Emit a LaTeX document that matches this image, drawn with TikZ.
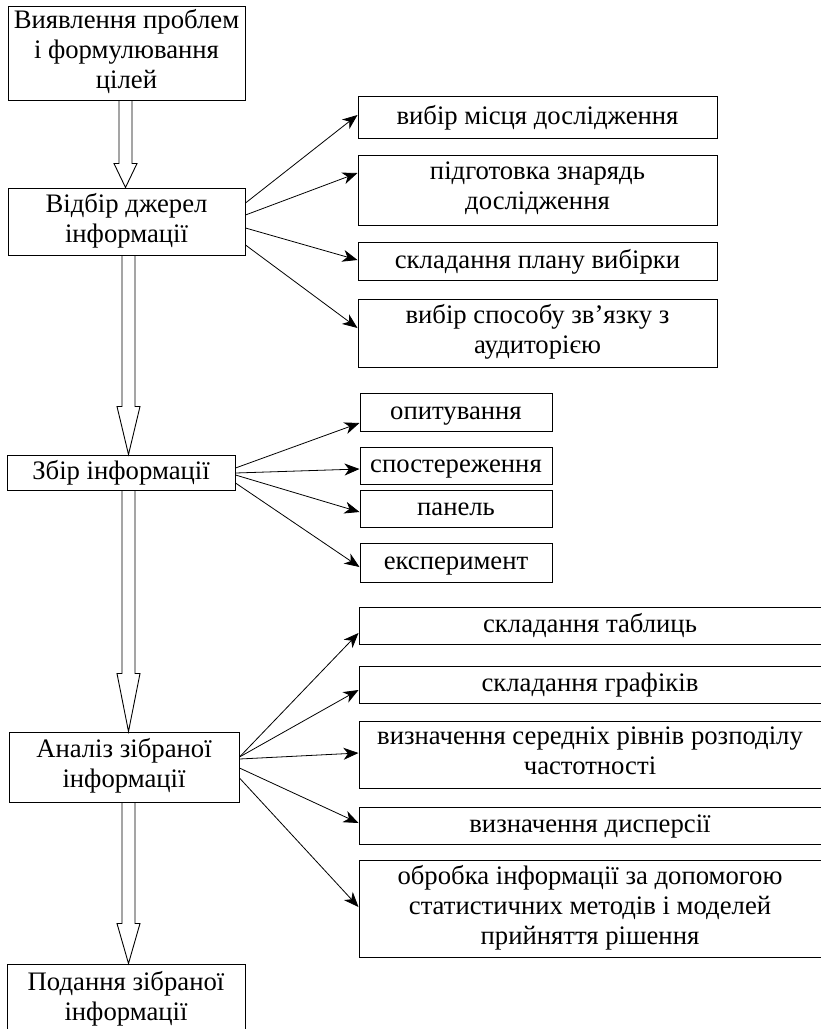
\documentclass[tikz,border=0pt]{standalone}
\usepackage{fontspec}
\setmainfont{Liberation Serif}
\usetikzlibrary{arrows.meta,calc}
\newcommand\sr{\rule[-8pt]{0pt}{30pt}}
\tikzset{
  box/.style={draw, line width=1pt, inner sep=0pt, align=center, font=\fontsize{26.7}{30}\selectfont, execute at begin node=\sr},
  arr/.style={line width=0.8pt, -{Stealth[length=15pt,width=12pt,inset=4.5pt]}},
  hollow/.style={line width=0.9pt, line join=miter}
}
\newcommand\hollowarrow[4]{%
  \draw[hollow] let \p1=(#2.south), \p2=(#3.north) in
  ({#1pt-6.5pt},\y1) -- ({#1pt-6.5pt},{\y2+#4pt}) -- ({#1pt-11.5pt},{\y2+#4pt}) --
  (#1pt,\y2) -- ({#1pt+11.5pt},{\y2+#4pt}) -- ({#1pt+6.5pt},{\y2+#4pt}) -- ({#1pt+6.5pt},\y1);}
\begin{document}
\begin{tikzpicture}[x=1pt,y=-1pt]
\useasboundingbox (0,0) rectangle (820,1029);
% left column
\node[box, minimum width=237, minimum height=94] (L1) at (126.5,53) {Виявлення проблем\\\sr і формулювання\\\sr цілей};
\node[box, minimum width=237, minimum height=67] (L2) at (126.5,221.5) {Відбір джерел\\\sr інформації};
\node[box, minimum width=228, minimum height=35] (L3) at (121,472.5) {Збір інформації};
\node[box, minimum width=230, minimum height=70] (L4) at (124,767) {Аналіз зібраної\\\sr інформації};
\node[box, minimum width=238, minimum height=71] (L5) at (126,999.5) {Подання зібраної\\\sr інформації};
% right boxes group 1
\node[box, minimum width=359, minimum height=42] (R1) at (537.5,117) {вибір місця дослідження};
\node[box, minimum width=359, minimum height=70] (R2) at (537.5,190) {підготовка знарядь\\\sr дослідження};
\node[box, minimum width=359, minimum height=38] (R3) at (537.5,261) {складання плану вибірки};
\node[box, minimum width=359, minimum height=68] (R4) at (537.5,333) {вибір способу зв’язку з\\\sr аудиторією};
% group 2
\node[box, minimum width=192, minimum height=38] (R5) at (456,412) {опитування};
\node[box, minimum width=192, minimum height=37] (R6) at (456,465.5) {спостереження};
\node[box, minimum width=192, minimum height=37] (R7) at (456,508.5) {панель};
\node[box, minimum width=192, minimum height=39] (R8) at (456,562.5) {експеримент};
% group 3
\node[box, minimum width=462, minimum height=37] (R9) at (590,625.5) {складання таблиць};
\node[box, minimum width=462, minimum height=37] (R10) at (590,684.5) {складання графіків};
\node[box, minimum width=462, minimum height=67] (R11) at (590,754.5) {визначення середніх рівнів розподілу\\\sr частотності};
\node[box, minimum width=462, minimum height=37] (R12) at (590,825.5) {визначення дисперсії};
\node[box, minimum width=462, minimum height=97] (R13) at (590,908.5) {обробка інформації за допомогою\\\sr статистичних методів і моделей\\\sr прийняття рішення};
% hollow arrows
\hollowarrow{125.5}{L1}{L2}{24}
\hollowarrow{128.5}{L2}{L3}{48}
\hollowarrow{128.5}{L3}{L4}{58}
\hollowarrow{128.5}{L4}{L5}{40}
% arrows from L2
\draw[arr] ([yshift=18.5pt]L2.east) -- ([yshift=2pt]R1.west);
\draw[arr] ([yshift=6.5pt]L2.east) -- ([yshift=17pt]R2.west);
\draw[arr] ([yshift=-6.5pt]L2.east) -- ([yshift=1pt]R3.west);
\draw[arr] ([yshift=-23.5pt]L2.east) -- ([yshift=5pt]R4.west);
% arrows from L3
\draw[arr] ([yshift=4.5pt]L3.east) -- ([yshift=-11pt]R5.west);
\draw[arr] ([yshift=-0.5pt]L3.east) -- ([yshift=-3.5pt]R6.west);
\draw[arr] ([yshift=-2.5pt]L3.east) -- ([yshift=-3.5pt]R7.west);
\draw[arr] ([yshift=-10.5pt]L3.east) -- ([yshift=-4.5pt]R8.west);
% arrows from L4
\draw[arr] ([yshift=10pt]L4.east) -- ([yshift=-7.5pt]R9.west);
\draw[arr] ([yshift=10pt]L4.east) -- ([yshift=-5.5pt]R10.west);
\draw[arr] ([yshift=8pt]L4.east) -- ([yshift=1.5pt]R11.west);
\draw[arr] ([yshift=-1pt]L4.east) -- ([yshift=2.5pt]R12.west);
\draw[arr] ([yshift=-11pt]L4.east) -- ([yshift=1.5pt]R13.west);
\end{tikzpicture}
\end{document}
